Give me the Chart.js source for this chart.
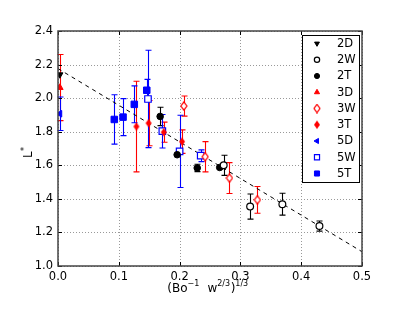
<!DOCTYPE html>
<html>
<head>
<meta charset="utf-8">
<script src="https://cdn.jsdelivr.net/npm/chart.js@4"></script>
<style>
  body { margin: 0; background: #fff; }
  #wrap { width: 415px; height: 312px; }
</style>
</head>
<body>
<div id="wrap"><canvas id="chart" width="415" height="312"></canvas></div>
<script>
// values (x, L*, error half-length)
const x2D = [0.003], y2D = [2.14], e2D = [0];
const x2W = [0.2725, 0.316, 0.369, 0.43], y2W = [1.60, 1.354, 1.368, 1.238], e2W = [0.06, 0.075, 0.065, 0.03];
const x2T = [0.168, 0.196, 0.229, 0.266], y2T = [1.891, 1.663, 1.584, 1.587], e2T = [0.055, 0, 0.022, 0];
const x3D = [0.003], y3D = [2.063], e3D = [0.197];
const x3W = [0.207, 0.242, 0.282, 0.328], y3W = [1.953, 1.651, 1.524, 1.394], e3W = [0.06, 0.09, 0.092, 0.08];
const x3T = [0.129, 0.149, 0.174, 0.204], y3T = [1.831, 1.851, 1.797, 1.741], e3T = [0.27, 0.135, 0.06, 0.07];
const x5D = [0.003], y5D = [1.907], e5D = [0.1];
const x5W = [0.148, 0.1716, 0.2, 0.2347], y5W = [1.995, 1.803, 1.683, 1.657], e5W = [0.29, 0.1, 0.215, 0.035];
const x5T = [0.0926, 0.107, 0.1255, 0.146], y5T = [1.873, 1.887, 1.963, 2.047], e5T = [0.147, 0.11, 0.11, 0.065];
const fitX = [0, 0.5], fitY = [2.176, 1.085];

const xTicks = [0.0, 0.1, 0.2, 0.3, 0.4, 0.5];
const yTicks = [1.0, 1.2, 1.4, 1.6, 1.8, 2.0, 2.2, 2.4];

const FONT = "'DejaVu Sans', sans-serif";

// thin diamond marker (matplotlib 'd')
function thinDiamond(color, filled) {
  const c = document.createElement("canvas");
  c.width = 8; c.height = 10;
  const g = c.getContext("2d");
  g.beginPath();
  g.moveTo(4, 0.8); g.lineTo(7, 5); g.lineTo(4, 9.2); g.lineTo(1, 5); g.closePath();
  if (filled) { g.fillStyle = color; g.fill(); }
  else { g.fillStyle = "#fff"; g.fill(); g.lineWidth = 1.2; g.strokeStyle = color; g.stroke(); }
  return c;
}

function pts(xs, ys) { return xs.map((x, i) => ({ x: x, y: ys[i] })); }

function series(label, xs, ys, errs, color, style, radius, rotation, open) {
  return {
    label: label,
    data: pts(xs, ys),
    errs: errs,
    showLine: false,
    pointStyle: style,
    pointRadius: radius,
    pointHoverRadius: radius,
    pointRotation: rotation,
    pointBorderColor: color,
    pointBackgroundColor: open ? "#fff" : color,
    pointBorderWidth: open ? 1.2 : 1,
    errColor: color
  };
}

const datasets = [
  series("2D", x2D, y2D, e2D, "#000", "triangle", 3.6, 180, false),
  series("2W", x2W, y2W, e2W, "#000", "circle", 3.4, 0, true),
  series("2T", x2T, y2T, e2T, "#000", "circle", 3.3, 0, false),
  series("3D", x3D, y3D, e3D, "#f00", "triangle", 3.8, 0, false),
  series("3W", x3W, y3W, e3W, "#f00", thinDiamond("#f00", false), 4, 0, true),
  series("3T", x3T, y3T, e3T, "#f00", thinDiamond("#f00", true), 4, 0, false),
  series("5D", x5D, y5D, e5D, "#00f", "triangle", 3.8, 270, false),
  series("5W", x5W, y5W, e5W, "#00f", "rect", 4.6, 0, true),
  series("5T", x5T, y5T, e5T, "#00f", "rect", 4.6, 0, false),
  {
    label: "fit",
    data: pts(fitX, fitY),
    showLine: true,
    borderColor: "#000",
    borderWidth: 1,
    borderDash: [4, 4],
    pointRadius: 0,
    fill: false,
    order: 10
  }
];

// grid, error bars, frame, ticks, titles and legend
const decor = {
  id: "decor",
  beforeDatasetsDraw(chart) {
    const ctx = chart.ctx, a = chart.chartArea, xs = chart.scales.x, ys = chart.scales.y;
    ctx.save();
    // dotted grid
    ctx.strokeStyle = "#999";
    ctx.lineWidth = 1;
    ctx.setLineDash([1, 2]);
    ctx.beginPath();
    xTicks.forEach(t => {
      const px = Math.round(xs.getPixelForValue(t)) + 0.5;
      ctx.moveTo(px, a.top); ctx.lineTo(px, a.bottom);
    });
    yTicks.forEach(t => {
      const py = Math.round(ys.getPixelForValue(t)) + 0.5;
      ctx.moveTo(a.left, py); ctx.lineTo(a.right, py);
    });
    ctx.stroke();
    ctx.setLineDash([]);
    // error bars
    ctx.lineWidth = 1.1;
    chart.data.datasets.forEach(ds => {
      if (!ds.errs) return;
      ctx.strokeStyle = ds.errColor;
      ds.data.forEach((p, i) => {
        const e = ds.errs[i];
        if (!e) return;
        const px = Math.round(xs.getPixelForValue(p.x)) + 0.5;
        const top = ys.getPixelForValue(p.y + e);
        const bot = ys.getPixelForValue(p.y - e);
        ctx.beginPath();
        ctx.moveTo(px, top); ctx.lineTo(px, bot);
        ctx.moveTo(px - 3, top); ctx.lineTo(px + 3, top);
        ctx.moveTo(px - 3, bot); ctx.lineTo(px + 3, bot);
        ctx.stroke();
      });
    });
    ctx.restore();
  },
  afterDatasetsDraw(chart) {
    const ctx = chart.ctx, a = chart.chartArea, xs = chart.scales.x, ys = chart.scales.y;
    ctx.save();
    // inward ticks on all sides
    ctx.strokeStyle = "#000";
    ctx.lineWidth = 1;
    ctx.beginPath();
    xTicks.forEach(t => {
      const px = Math.round(xs.getPixelForValue(t)) + 0.5;
      ctx.moveTo(px, a.bottom); ctx.lineTo(px, a.bottom - 4);
      ctx.moveTo(px, a.top); ctx.lineTo(px, a.top + 4);
    });
    yTicks.forEach(t => {
      const py = Math.round(ys.getPixelForValue(t)) + 0.5;
      ctx.moveTo(a.left, py); ctx.lineTo(a.left + 4, py);
      ctx.moveTo(a.right, py); ctx.lineTo(a.right - 4, py);
    });
    ctx.stroke();
    // frame
    ctx.strokeStyle = "#444";
    ctx.lineWidth = 1.5;
    ctx.strokeRect(a.left, a.top, a.right - a.left, a.bottom - a.top);

    // legend
    const lx = 302, ly = 35, lw = 57, lh = 147;
    ctx.fillStyle = "#fff";
    ctx.fillRect(lx, ly, lw, lh);
    ctx.strokeStyle = "#000";
    ctx.lineWidth = 1;
    ctx.strokeRect(lx + 0.5, ly + 0.5, lw, lh);
    ctx.font = "11.5px " + FONT;
    ctx.textBaseline = "middle";
    ctx.textAlign = "left";
    chart.data.datasets.forEach((ds, i) => {
      if (!ds.errs) return;
      const yy = 43.5 + i * 16.25;
      ctx.fillStyle = ds.pointBackgroundColor;
      ctx.strokeStyle = ds.pointBorderColor;
      ctx.lineWidth = ds.pointBorderWidth;
      Chart.helpers.drawPoint(ctx, {
        pointStyle: ds.pointStyle,
        radius: ds.pointRadius * 0.78,
        rotation: ds.pointRotation,
        borderWidth: ds.pointBorderWidth
      }, 317, yy);
      ctx.fillStyle = "#000";
      ctx.fillText(ds.label, 337, yy + 0.5);
    });

    // x title: (Bo^-1 w^2/3)^1/3
    const parts = [["(Bo", 0], ["\u22121", 1], ["  w", 0], ["2/3", 1], [")", 0], ["1/3", 1]];
    const big = "12px " + FONT, small = "8px " + FONT;
    let total = 0;
    parts.forEach(p => { ctx.font = p[1] ? small : big; total += ctx.measureText(p[0]).width + (p[1] ? 0.5 : 0); });
    let cx = 208 - total / 2;
    ctx.fillStyle = "#000";
    ctx.textBaseline = "alphabetic";
    ctx.textAlign = "left";
    parts.forEach(p => {
      ctx.font = p[1] ? small : big;
      ctx.fillText(p[0], cx, p[1] ? 286 : 292);
      cx += ctx.measureText(p[0]).width + (p[1] ? 0.5 : 0);
    });

    // y title: L*
    ctx.translate(29, 154);
    ctx.rotate(-Math.PI / 2);
    ctx.font = big;
    ctx.textBaseline = "middle";
    ctx.fillText("L", -4, 0);
    ctx.font = small;
    ctx.fillText("*", 3, -4);
    ctx.restore();
  }
};

new Chart(document.getElementById("chart"), {
  type: "scatter",
  data: { datasets: datasets },
  plugins: [decor],
  options: {
    responsive: false,
    animation: false,
    layout: { padding: { top: 31, right: 53, left: 0, bottom: 0 } },
    plugins: { legend: { display: false }, tooltip: { enabled: false } },
    scales: {
      x: {
        type: "linear",
        min: 0, max: 0.5,
        afterFit(s) { s.height = 46; },
        afterBuildTicks(s) { s.ticks = xTicks.map(v => ({ value: v })); },
        ticks: { padding: 4, color: "#000", font: { family: FONT, size: 11.5 }, callback: v => v.toFixed(1) },
        grid: { display: false, drawTicks: false },
        border: { display: false }
      },
      y: {
        type: "linear",
        min: 1.0, max: 2.4,
        afterFit(s) { s.width = 58; },
        afterBuildTicks(s) { s.ticks = yTicks.map(v => ({ value: v })); },
        ticks: { padding: 5, color: "#000", font: { family: FONT, size: 11.5 }, callback: v => v.toFixed(1) },
        grid: { display: false, drawTicks: false },
        border: { display: false }
      }
    }
  }
});
</script>
</body>
</html>
